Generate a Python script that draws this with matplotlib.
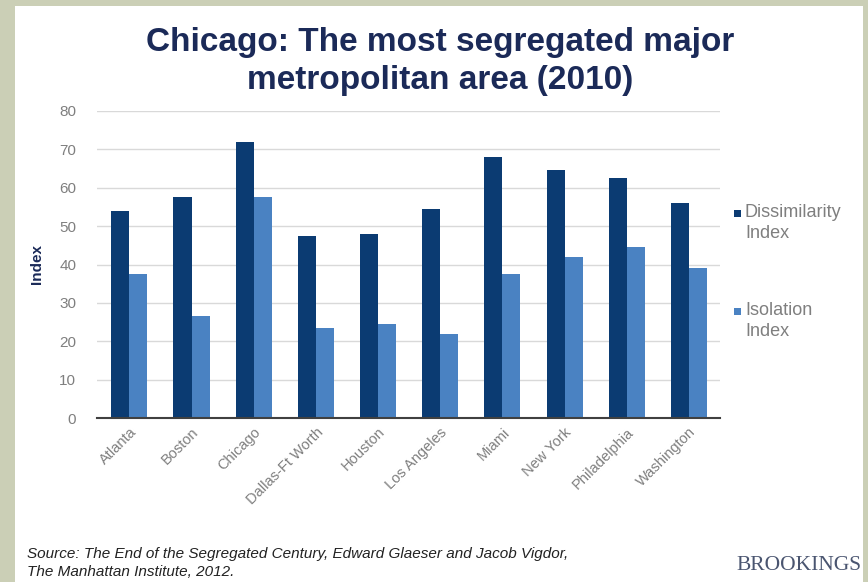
import matplotlib
matplotlib.use("Agg")
import matplotlib.pyplot as plt
from matplotlib.patches import Rectangle
import numpy as np

cities = ["Atlanta", "Boston", "Chicago", "Dallas-Ft Worth", "Houston",
          "Los Angeles", "Miami", "New York", "Philadelphia", "Washington"]
dissimilarity = [54, 57.5, 72, 47.5, 48, 54.5, 68, 64.5, 62.5, 56]
isolation = [37.5, 26.5, 57.5, 23.5, 24.5, 22, 37.5, 42, 44.5, 39]
yticks = [0, 10, 20, 30, 40, 50, 60, 70, 80]
series_names = ["Dissimilarity\nIndex", "Isolation\nIndex"]

dark = "#0b3b72"
light = "#4a82c2"
navy = "#1b2a58"
grey = "#7f7f7f"

plt.rcParams['font.family'] = ['Liberation Sans', 'DejaVu Sans']

fig = plt.figure(figsize=(8.68, 5.82), dpi=100)
fig.patch.set_facecolor("#cbcfb6")
W, H = 868, 582
fig.patches.append(Rectangle((15 / W, 0), (863 - 15) / W, 1 - 6 / H,
                             transform=fig.transFigure, facecolor="white",
                             edgecolor="none", zorder=-10))

ax = fig.add_axes([97 / W, 1 - 418 / H, (720 - 97) / W, (418 - 111) / H])
ax.set_zorder(2)
ax.set_facecolor("none")
x = np.arange(len(cities))
w = 0.29
ax.bar(x - w / 2, dissimilarity, w, color=dark, zorder=3)
ax.bar(x + w / 2, isolation, w, color=light, zorder=3)

ax.set_xlim(-0.52, 9.5)
ax.set_ylim(0, 80)
ax.set_yticks(yticks)
ax.yaxis.grid(True, color="#d9d9d9", linewidth=1, zorder=0)
ax.tick_params(axis='y', length=0, labelsize=11, labelcolor=grey, pad=15)
ax.tick_params(axis='x', length=0, labelsize=10.5, labelcolor=grey, pad=5)
ax.set_xticks(x)
ax.set_xticklabels(cities, rotation=45, ha='right', rotation_mode='anchor')
for s in ["top", "right", "left"]:
    ax.spines[s].set_visible(False)
ax.spines["bottom"].set_color("#404040")
ax.spines["bottom"].set_linewidth(1.5)
ax.spines["bottom"].set_zorder(4)

ax.set_ylabel("Index", fontsize=11, fontweight="bold", color=navy, labelpad=11)

fig.text(440 / W, 1 - 42 / H, "Chicago: The most segregated major",
         ha="center", va="center", fontsize=24, fontweight="bold", color=navy)
fig.text(440 / W, 1 - 81 / H, "metropolitan area (2010)",
         ha="center", va="center", fontsize=24, fontweight="bold", color=navy)

# legend
for name, col, yy in [(series_names[0], dark, 213), (series_names[1], light, 311)]:
    fig.patches.append(Rectangle((734 / W, 1 - (yy + 4) / H), 7 / W, 7 / H,
                                 transform=fig.transFigure, facecolor=col,
                                 edgecolor="none"))
    fig.text(745 / W, 1 - (yy - 9) / H, name, ha="left", va="top",
             fontsize=13, color=grey, linespacing=1.3)

fig.text(27 / W, 1 - 563 / H,
         "Source: The End of the Segregated Century, Edward Glaeser and Jacob Vigdor,\nThe Manhattan Institute, 2012.",
         ha="left", va="center", fontsize=11, style="italic", color="#222222",
         linespacing=1.35)

fig.text(862 / W, 1 - 566 / H, "BROOKINGS", ha="right", va="center",
         fontsize=15.5, family=["Liberation Serif", "DejaVu Serif"],
         color="#4a5570")

fig.savefig("out.png", dpi=100, facecolor=fig.get_facecolor())
